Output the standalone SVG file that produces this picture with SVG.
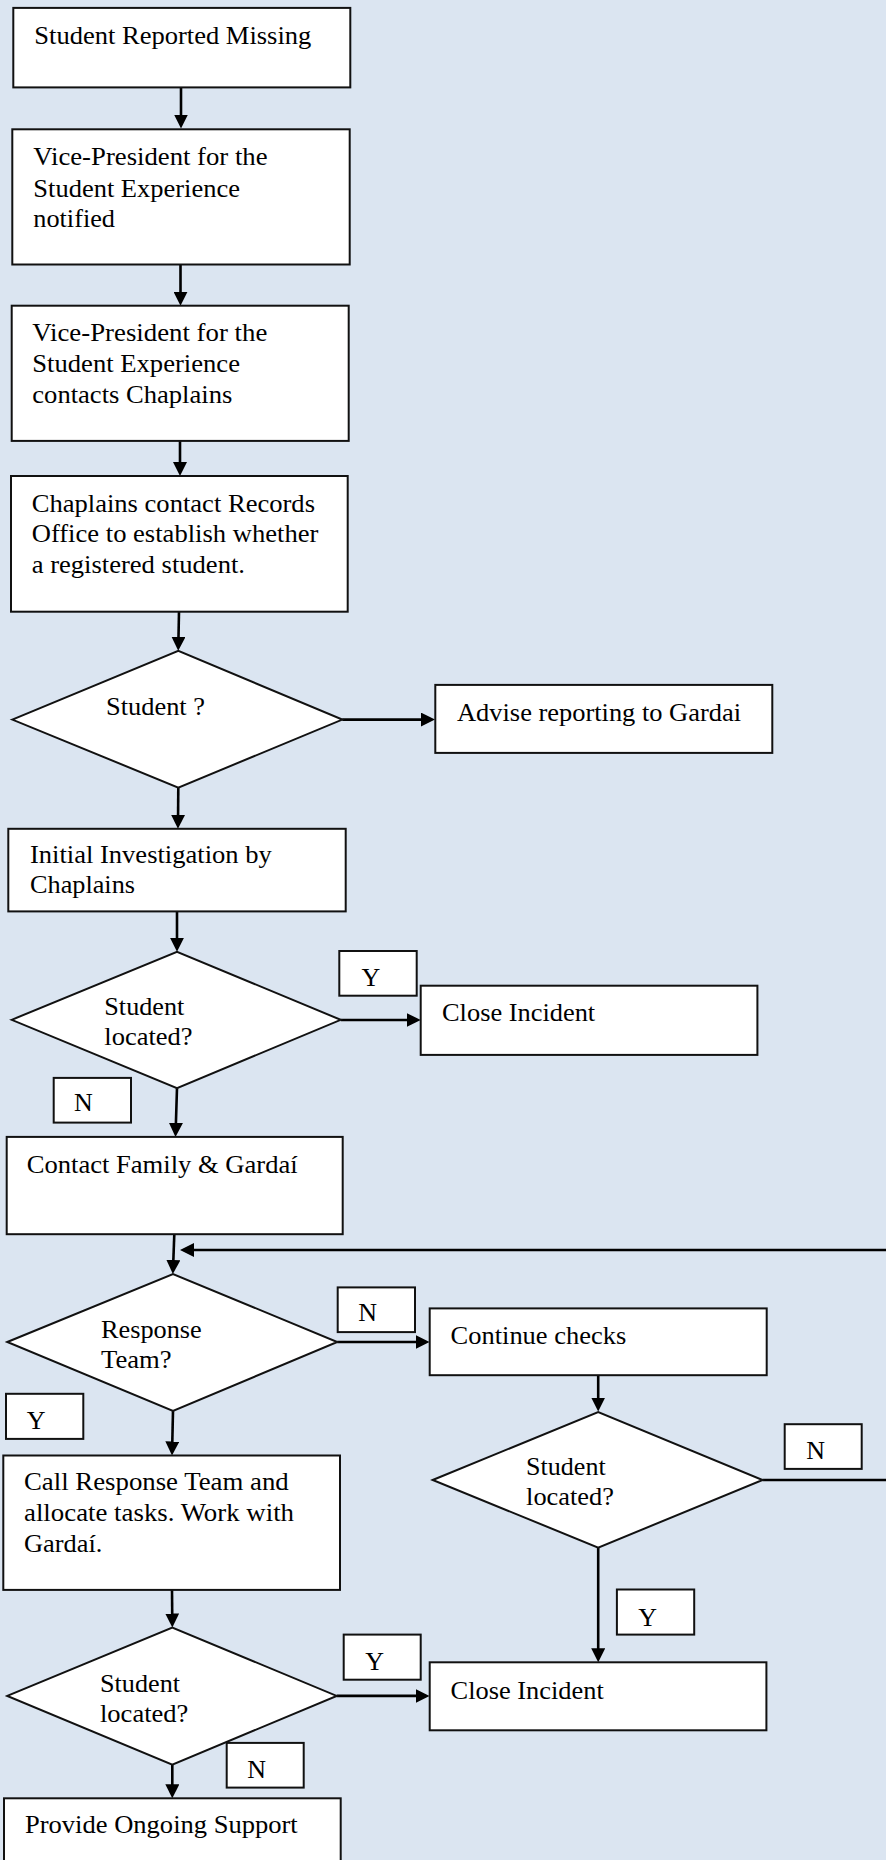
<svg xmlns="http://www.w3.org/2000/svg" width="886" height="1860" viewBox="0 0 886 1860">
<style>
.bg{fill:#dbe5f1}
.box{fill:#ffffff;stroke:#111111;stroke-width:2}
.lab{fill:#ffffff;stroke:#111111;stroke-width:2}
.t{font-family:"Liberation Serif","Times New Roman",serif;font-size:26px;fill:#000000}
.c{fill:none;stroke:#000000;stroke-width:2.6}
</style>
<defs>
<marker id="ah" viewBox="0 0 14 14" refX="10" refY="7" markerWidth="14" markerHeight="14" markerUnits="userSpaceOnUse" orient="auto">
<path d="M0,0 L14,7 L0,14 z" fill="#000000"/>
</marker>
</defs>
<rect class="bg" x="0" y="0" width="886" height="1860"/>

<g id="connectors">
<path class="c" marker-end="url(#ah)" d="M181,87.4 V124.5"/>
<path class="c" marker-end="url(#ah)" d="M180.5,264.5 V301.7"/>
<path class="c" marker-end="url(#ah)" d="M180,440.9 V472"/>
<path class="c" marker-end="url(#ah)" d="M179,611.7 L178.3,646.8"/>
<path class="c" marker-end="url(#ah)" d="M342.3,719.6 H431"/>
<path class="c" marker-end="url(#ah)" d="M178.3,787.6 L178,824.8"/>
<path class="c" marker-end="url(#ah)" d="M177,911.4 V947.8"/>
<path class="c" marker-end="url(#ah)" d="M340.7,1020 H416.7"/>
<path class="c" marker-end="url(#ah)" d="M177,1088.1 L175.6,1132.9"/>
<path class="c" marker-end="url(#ah)" d="M174.3,1234.2 L173,1270"/>
<path class="c" marker-end="url(#ah)" d="M337.3,1342 H425.5"/>
<path class="c" marker-end="url(#ah)" d="M173,1410.8 L172.1,1451.5"/>
<path class="c" marker-end="url(#ah)" d="M172,1589.9 L172.3,1623.5"/>
<path class="c" marker-end="url(#ah)" d="M336.7,1695.9 H425.5"/>
<path class="c" marker-end="url(#ah)" d="M172.3,1764.7 V1794.3"/>
<path class="c" marker-end="url(#ah)" d="M598.2,1375.2 V1407.5"/>
<path class="c" marker-end="url(#ah)" d="M598.2,1547.6 V1658.3"/>
<path class="c" marker-end="url(#ah)" d="M762.6,1480 H890 V1250 H184"/>
</g>

<g id="n1"><rect class="box" x="13.3" y="7.9" width="337" height="79.5"/>
<text class="t" x="34.3" y="44.2" textLength="277" lengthAdjust="spacingAndGlyphs">Student Reported Missing</text></g>

<g id="n2"><rect class="box" x="12.3" y="129.3" width="337.4" height="135.2"/>
<text class="t" x="33.3" y="165.2" textLength="234.3" lengthAdjust="spacingAndGlyphs">Vice-President for the</text>
<text class="t" x="33.3" y="196.6" textLength="206.7" lengthAdjust="spacingAndGlyphs">Student Experience</text>
<text class="t" x="33.3" y="226.6" textLength="81.7" lengthAdjust="spacingAndGlyphs">notified</text></g>

<g id="n3"><rect class="box" x="11.7" y="305.7" width="337" height="135.2"/>
<text class="t" x="32.3" y="340.8" textLength="235" lengthAdjust="spacingAndGlyphs">Vice-President for the</text>
<text class="t" x="32.3" y="371.6" textLength="207.7" lengthAdjust="spacingAndGlyphs">Student Experience</text>
<text class="t" x="32.3" y="402.5" textLength="200" lengthAdjust="spacingAndGlyphs">contacts Chaplains</text></g>

<g id="n4"><rect class="box" x="11" y="476" width="336.7" height="135.7"/>
<text class="t" x="31.7" y="512.1" textLength="283.3" lengthAdjust="spacingAndGlyphs">Chaplains contact Records</text>
<text class="t" x="31.7" y="542.1" textLength="286.7" lengthAdjust="spacingAndGlyphs">Office to establish whether</text>
<text class="t" x="31.7" y="572.9" textLength="213.3" lengthAdjust="spacingAndGlyphs">a registered student.</text></g>

<g id="d1"><polygon class="box" points="12.3,719.6 178.3,650.8 342.3,719.6 178.3,787.6"/>
<text class="t" x="106" y="714.9" textLength="99" lengthAdjust="spacingAndGlyphs">Student ?</text></g>

<g id="n5"><rect class="box" x="435.3" y="684.9" width="337" height="68"/>
<text class="t" x="457" y="720.8" textLength="284" lengthAdjust="spacingAndGlyphs">Advise reporting to Gardai</text></g>

<g id="n6"><rect class="box" x="8.3" y="828.8" width="337.4" height="82.6"/>
<text class="t" x="30" y="863.2" textLength="241.7" lengthAdjust="spacingAndGlyphs">Initial Investigation by</text>
<text class="t" x="30" y="892.8" textLength="105" lengthAdjust="spacingAndGlyphs">Chaplains</text></g>

<g id="d2"><polygon class="box" points="11.7,1019.8 177,951.8 340.7,1019.8 177,1088.1"/>
<text class="t" x="104.3" y="1014.6" textLength="80" lengthAdjust="spacingAndGlyphs">Student</text>
<text class="t" x="104.3" y="1045.4" textLength="88.3" lengthAdjust="spacingAndGlyphs">located?</text></g>

<g id="l1"><rect class="lab" x="339.3" y="951" width="77.4" height="44.7"/>
<text class="t" x="361.5" y="985.7">Y</text></g>

<g id="n7"><rect class="box" x="420.7" y="985.7" width="336.7" height="69.2"/>
<text class="t" x="442" y="1021.2" textLength="153.2" lengthAdjust="spacingAndGlyphs">Close Incident</text></g>

<g id="l2"><rect class="lab" x="53.7" y="1077.9" width="77.3" height="44.7"/>
<text class="t" x="74" y="1111.3">N</text></g>

<g id="n8"><rect class="box" x="6.7" y="1136.9" width="336" height="97.3"/>
<text class="t" x="26.7" y="1172.5" textLength="271" lengthAdjust="spacingAndGlyphs">Contact Family &amp; Gardaí</text></g>

<g id="d3"><polygon class="box" points="7.3,1342 173,1274 337.3,1342 173,1410.8"/>
<text class="t" x="101" y="1337.7" textLength="100.7" lengthAdjust="spacingAndGlyphs">Response</text>
<text class="t" x="101" y="1367.7" textLength="70.7" lengthAdjust="spacingAndGlyphs">Team?</text></g>

<g id="l3"><rect class="lab" x="337.7" y="1287.4" width="77.3" height="44.7"/>
<text class="t" x="358.3" y="1321">N</text></g>

<g id="n9"><rect class="box" x="429.7" y="1308.4" width="337" height="66.8"/>
<text class="t" x="450.6" y="1343.6" textLength="175.6" lengthAdjust="spacingAndGlyphs">Continue checks</text></g>

<g id="l4"><rect class="lab" x="6" y="1393.8" width="77.3" height="45.1"/>
<text class="t" x="26.7" y="1429">Y</text></g>

<g id="n10"><rect class="box" x="3.3" y="1455.5" width="336.7" height="134.4"/>
<text class="t" x="24" y="1489.9" textLength="264.7" lengthAdjust="spacingAndGlyphs">Call Response Team and</text>
<text class="t" x="24" y="1520.7" textLength="270" lengthAdjust="spacingAndGlyphs">allocate tasks. Work with</text>
<text class="t" x="24" y="1552.3" textLength="78.3" lengthAdjust="spacingAndGlyphs">Gardaí.</text></g>

<g id="d5"><polygon class="box" points="432.7,1480 598.2,1412 762.6,1480 598.2,1547.6"/>
<text class="t" x="526.1" y="1475.2" textLength="79.6" lengthAdjust="spacingAndGlyphs">Student</text>
<text class="t" x="526.1" y="1504.9" textLength="87.8" lengthAdjust="spacingAndGlyphs">located?</text></g>

<g id="l5"><rect class="lab" x="784.7" y="1424.2" width="77" height="44.7"/>
<text class="t" x="806.3" y="1458.6">N</text></g>

<g id="l6"><rect class="lab" x="616.9" y="1589.5" width="77.3" height="45.1"/>
<text class="t" x="638.2" y="1625.5">Y</text></g>

<g id="d4"><polygon class="box" points="7.3,1695.9 172.3,1627.5 336.7,1695.9 172.3,1764.7"/>
<text class="t" x="100" y="1691.5" textLength="80" lengthAdjust="spacingAndGlyphs">Student</text>
<text class="t" x="100" y="1722.4" textLength="88.3" lengthAdjust="spacingAndGlyphs">located?</text></g>

<g id="l7"><rect class="lab" x="343.7" y="1634.6" width="77" height="45.1"/>
<text class="t" x="365.3" y="1670.2">Y</text></g>

<g id="n11"><rect class="box" x="429.7" y="1662.3" width="336.7" height="68"/>
<text class="t" x="450.6" y="1698.6" textLength="153.2" lengthAdjust="spacingAndGlyphs">Close Incident</text></g>

<g id="l8"><rect class="lab" x="226.7" y="1742.9" width="77" height="44.7"/>
<text class="t" x="247.3" y="1777.7">N</text></g>

<g id="n12"><rect class="box" x="4" y="1798.3" width="336.7" height="80"/>
<text class="t" x="25" y="1833.2" textLength="272.7" lengthAdjust="spacingAndGlyphs">Provide Ongoing Support</text></g>
</svg>
